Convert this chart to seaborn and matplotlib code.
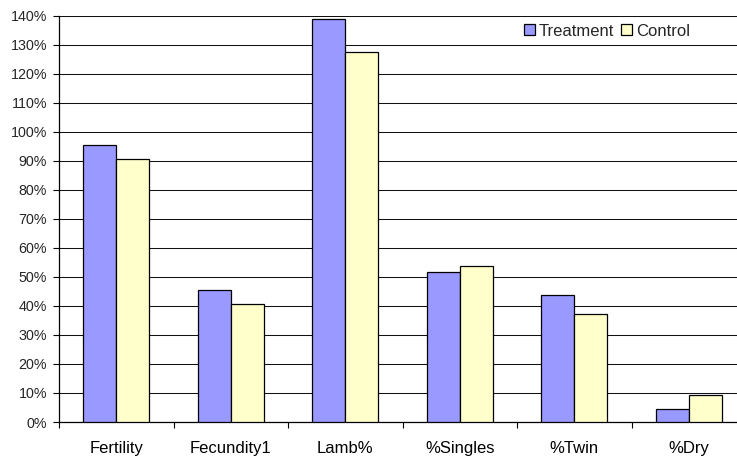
import matplotlib
matplotlib.use("Agg")
import matplotlib.pyplot as plt
from matplotlib.ticker import FuncFormatter, FixedLocator
import numpy as np
import pandas as pd
import seaborn as sns

categories = ["Fertility", "Fecundity1", "Lamb%", "%Singles", "%Twin", "%Dry"]
treatment = [95.5, 45.6, 138.7, 51.8, 43.6, 4.6]
control = [90.7, 40.7, 127.6, 53.6, 37.1, 9.3]
groups = ["Treatment", "Control"]
colors = {"Treatment": "#9999FF", "Control": "#FFFFCC"}
y_ticks = list(range(0, 141, 10))

df = pd.DataFrame({
    "category": categories * 2,
    "group": [groups[0]] * len(categories) + [groups[1]] * len(categories),
    "value": treatment + control,
})

sns.set_style("white")
plt.rcParams["font.family"] = ["Liberation Sans", "DejaVu Sans"]

fig = plt.figure(figsize=(7.37, 4.58), dpi=100)
W, H = 737, 458
ax = fig.add_axes([59 / W, (H - 422) / H, (W - 59) / W, (422 - 15.5) / H])

sns.barplot(data=df, x="category", y="value", hue="group", order=categories,
            hue_order=groups, palette=colors, width=0.573, gap=0,
            edgecolor="black", linewidth=0.9, saturation=1, ax=ax,
            legend=True, zorder=3)

ax.set_ylim(0, 140)
ax.set_xlim(-0.5, (W - 59) / 114.5 - 0.5)
ax.set_yticks(y_ticks)
ax.yaxis.set_major_formatter(FuncFormatter(lambda v, _: f"{int(v)}%"))
ax.yaxis.grid(True, color="#111111", linewidth=0.75, zorder=0)
ax.set_axisbelow(True)
ax.set_xlabel("")
ax.set_ylabel("")

ax.xaxis.set_minor_locator(FixedLocator(np.arange(-0.5, len(categories), 1.0)))
ax.tick_params(axis="x", which="major", length=0, pad=13.5, labelsize=12, colors="black")
ax.tick_params(axis="x", which="minor", length=4, width=0.8, color="black", bottom=True)
ax.tick_params(axis="y", which="major", length=4, width=0.8, pad=4.5, labelsize=10.3,
               left=True, color="black")

for side in ["top", "right"]:
    ax.spines[side].set_visible(False)
for side in ["left", "bottom"]:
    ax.spines[side].set_color("black")
    ax.spines[side].set_linewidth(0.9)

ax.legend_.remove()
handles, labels = ax.get_legend_handles_labels()
fig.legend(handles[:2], labels[:2], loc="center", bbox_to_anchor=(607 / W, 1 - 31 / H),
           ncol=2, frameon=False, fontsize=12, handlelength=0.65, handleheight=0.65,
           handletextpad=0.25, columnspacing=0.4, borderaxespad=0)

fig.savefig("out.png", dpi=100)
